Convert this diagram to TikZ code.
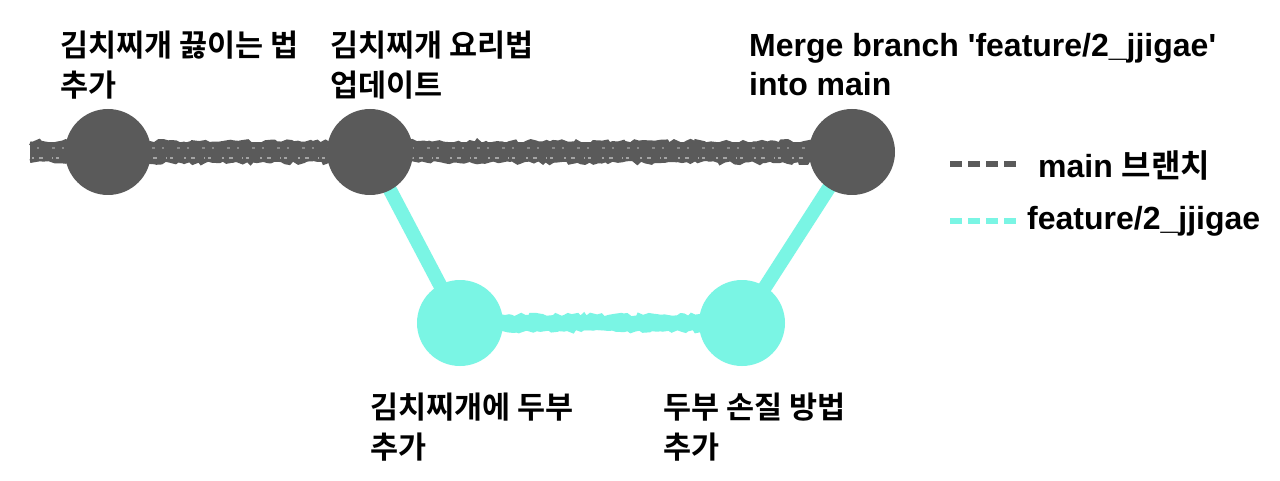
\documentclass[tikz,border=0pt]{standalone}
\usepackage{fontspec}
\setmainfont{Liberation Sans}
\newfontfamily\kr{Noto Sans CJK KR}[BoldFont={Noto Sans CJK KR Bold}]
\usetikzlibrary{decorations.pathmorphing,backgrounds}
\definecolor{gr}{RGB}{90,90,90}
\definecolor{cy}{RGB}{122,245,228}
\tikzset{
  krlbl/.style={anchor=north west, align=left, inner sep=0pt, font=\kr\bfseries\fontsize{30.5}{40}\selectfont},
  enlbl/.style={anchor=north west, align=left, inner sep=0pt, font=\bfseries\fontsize{32}{39}\selectfont},
  leglbl/.style={anchor=west, inner sep=0pt, font=\bfseries\fontsize{32}{36}\selectfont},
  commitmain/.style={circle, fill=gr, minimum size=86pt, inner sep=0pt},
  commitfeat/.style={circle, fill=cy, minimum size=86pt, inner sep=0pt},
  mainline/.style={gr, line width=19pt},
  featline/.style={cy, line width=14pt},
  roughedge/.style={line width=4pt, decorate, decoration={random steps, segment length=4pt, amplitude=2pt}},
  roughcy/.style={cy, line width=3pt, decorate, decoration={random steps, segment length=4pt, amplitude=1.8pt}},
  speck/.style={white, opacity=.45, line width=1.5pt, dash pattern=on 2pt off 5pt on 4pt off 9pt on 1pt off 3pt on 3pt off 11pt},
  legline/.style={line width=6pt, dash pattern=on 12pt off 6pt}
}
\begin{document}
\begin{tikzpicture}[x=1pt,y=-1pt]
\useasboundingbox (0,0) rectangle (1280,481);
% commits
\node[commitmain] (c1) at (108,152) {};
\node[commitmain] (c2) at (370,152) {};
\node[commitmain] (c3) at (852,152) {};
\node[commitfeat] (f1) at (460,323) {};
\node[commitfeat] (f2) at (742,323) {};
\coordinate (start) at (30,152);
\coordinate (ea) at (30,143);
\coordinate (eb) at (830,143);
\coordinate (ec) at (30,161);
\coordinate (ed) at (830,161);
\coordinate (sa) at (32,158);
\coordinate (sb) at (820,158);
\coordinate (sc) at (37,148);
\coordinate (sd) at (820,148);
\coordinate (ha) at (480,316);
\coordinate (hb) at (720,316);
\coordinate (hc) at (480,330);
\coordinate (hd) at (720,330);
\begin{pgfonlayer}{background}
\fill[white] (0,0) rectangle (1280,481);
\draw[mainline] (start) -- (c1.center) -- (c2.center) -- (c3.center);
\draw[gr, roughedge] (ea) -- (eb);
\draw[gr, roughedge] (ec) -- (ed);
\draw[speck] (sa) -- (sb);
\draw[speck, opacity=.3, dash pattern=on 2pt off 13pt on 3pt off 7pt] (sc) -- (sd);
\draw[featline] (c2.center) -- (f1.center) -- (f2.center) -- (c3.center);
\draw[roughcy] (ha) -- (hb);
\draw[roughcy] (hc) -- (hd);
\end{pgfonlayer}
% labels
\node[krlbl] (t1) at (60,31) {김치찌개 끓이는 법\\추가};
\node[krlbl] (t2) at (330,31) {김치찌개 요리법\\업데이트};
\node[enlbl] (t3) at (749,33) {Merge branch \textquotesingle feature/2\_jjigae\textquotesingle\\into main};
\node[krlbl] (t4) at (370,393) {김치찌개에 두부\\추가};
\node[krlbl] (t5) at (663,393) {두부 손질 방법\\추가};
% legend
\coordinate (l1a) at (950,164);
\coordinate (l1b) at (1020,164);
\coordinate (l2a) at (950,221);
\coordinate (l2b) at (1020,221);
\draw[gr, legline] (l1a) -- (l1b);
\draw[cy, legline] (l2a) -- (l2b);
\node[leglbl] (lg1) at (1038,166) {main {\kr\bfseries 브랜치}};
\node[leglbl] (lg2) at (1027,221) {feature/2\_jjigae};
\end{tikzpicture}
\end{document}
